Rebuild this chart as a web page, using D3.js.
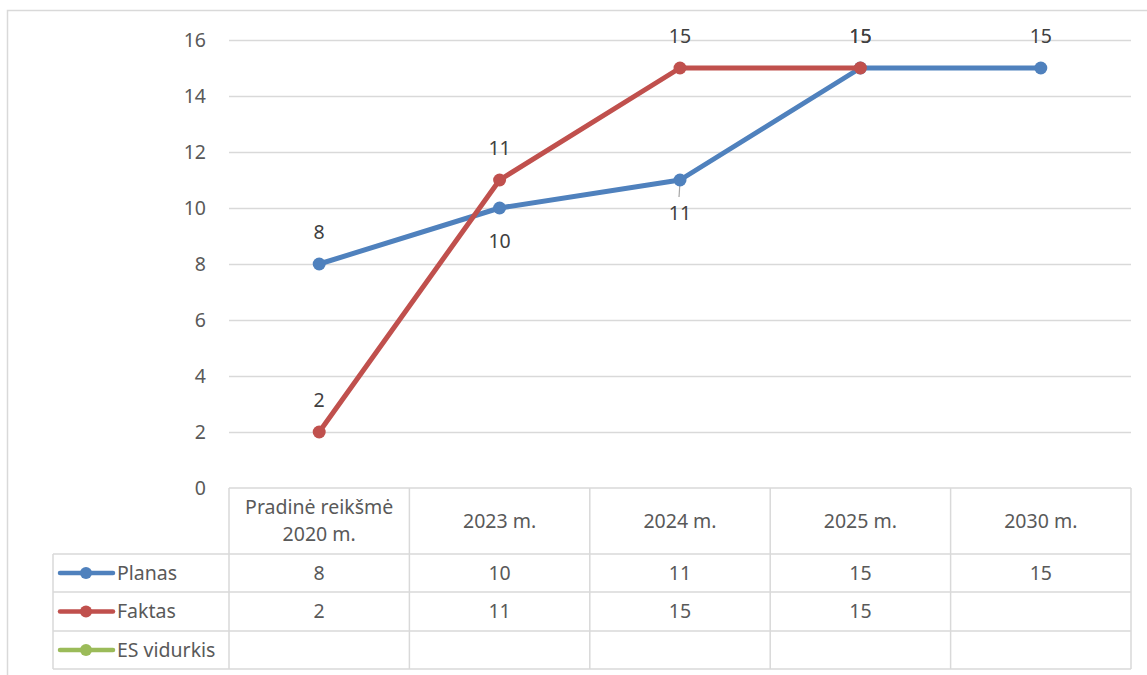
<!DOCTYPE html>
<html>
<head>
<meta charset="utf-8">
<script src="https://cdn.jsdelivr.net/npm/d3@7"></script>
<style>
  body { margin: 0; background: #fff; }
  text { font-family: "Noto Sans", "Open Sans", sans-serif; }
</style>
</head>
<body>
<div id="chart"></div>
<script>
// Categories and series
const categories = ["Pradinė reikšmė\n2020 m.", "2023 m.", "2024 m.", "2025 m.", "2030 m."];
const planas = [8, 10, 11, 15, 15];
const faktas = [2, 11, 15, 15, null];
const esVidurkis = [null, null, null, null, null];
const yTicks = [0, 2, 4, 6, 8, 10, 12, 14, 16];

const series = [
    { name: "Planas", values: planas, color: "#4F81BD", labelPos: ["above", "below", "below", "above", "above"] },
    { name: "Faktas", values: faktas, color: "#C0504D", labelPos: ["above", "above", "above", "above", "above"] },
    { name: "ES vidurkis", values: esVidurkis, color: "#9BBB59", labelPos: [] }
];

const width = 1147, height = 675;
const plot = { left: 229, right: 1131, top: 40, bottom: 488 };
const gridColor = "#d9d9d9";
const textColor = "#595959";
const fs = "19.5px";

const svg = d3.select("#chart").append("svg")
    .attr("width", width)
    .attr("height", height);

// Outer chart border
svg.append("rect")
    .attr("x", 7.5).attr("y", 10.5)
    .attr("width", 1160).attr("height", 700)
    .attr("fill", "none").attr("stroke", gridColor).attr("stroke-width", 1.5);

const x = d3.scaleBand()
    .domain(categories)
    .range([plot.left, plot.right]);

const y = d3.scaleLinear()
    .domain([0, 16])
    .range([plot.bottom, plot.top]);

// Gridlines
svg.append("g")
    .selectAll("line")
    .data(yTicks.filter(d => d > 0))
    .enter().append("line")
    .attr("x1", plot.left).attr("x2", plot.right)
    .attr("y1", d => Math.round(y(d)) + 0.5)
    .attr("y2", d => Math.round(y(d)) + 0.5)
    .attr("stroke", gridColor).attr("stroke-width", 1.5);

// Y axis labels
const yAxis = d3.axisLeft(y).tickValues(yTicks).tickSize(0).tickPadding(0);
const yg = svg.append("g")
    .attr("transform", `translate(206,0)`)
    .call(yAxis);
yg.select(".domain").remove();
yg.selectAll("text")
    .attr("fill", textColor)
    .attr("font-size", fs)
    .attr("dy", "0.35em");

// Data table
const rowTop = [488, 554, 592, 631, 669];
const legendLeft = 53;
const table = svg.append("g").attr("stroke", gridColor).attr("stroke-width", 1.5).attr("fill", "none");

// header row lines
table.append("line").attr("x1", plot.left).attr("x2", plot.right).attr("y1", rowTop[0]).attr("y2", rowTop[0]);
rowTop.slice(1).forEach(r => {
    table.append("line").attr("x1", legendLeft).attr("x2", plot.right).attr("y1", r).attr("y2", r);
});
// vertical lines
categories.forEach(c => {
    table.append("line").attr("x1", x(c)).attr("x2", x(c)).attr("y1", rowTop[0]).attr("y2", rowTop[4]);
});
table.append("line").attr("x1", plot.right).attr("x2", plot.right).attr("y1", rowTop[0]).attr("y2", rowTop[4]);
table.append("line").attr("x1", legendLeft).attr("x2", legendLeft).attr("y1", rowTop[1]).attr("y2", rowTop[4]);

// header text
categories.forEach(c => {
    const lines = c.split("\n");
    const cy = (rowTop[0] + rowTop[1]) / 2;
    const t = svg.append("text")
        .attr("x", x(c) + x.bandwidth() / 2)
        .attr("text-anchor", "middle")
        .attr("fill", textColor)
        .attr("font-size", fs);
    lines.forEach((l, i) => {
        t.append("tspan")
            .attr("x", x(c) + x.bandwidth() / 2)
            .attr("y", cy + (i - (lines.length - 1) / 2) * 27)
            .attr("dy", "0.35em")
            .text(l);
    });
});

// rows
series.forEach((s, i) => {
    const cy = (rowTop[i + 1] + rowTop[i + 2]) / 2;
    const lg = svg.append("g");
    lg.append("line")
        .attr("x1", 60).attr("x2", 113)
        .attr("y1", cy).attr("y2", cy)
        .attr("stroke", s.color).attr("stroke-width", 4.5)
        .attr("stroke-linecap", "round");
    lg.append("circle")
        .attr("cx", 86).attr("cy", cy).attr("r", 6)
        .attr("fill", s.color);
    lg.append("text")
        .attr("x", 117).attr("y", cy).attr("dy", "0.35em")
        .attr("fill", textColor).attr("font-size", fs)
        .text(s.name);

    s.values.forEach((v, j) => {
        if (v == null) return;
        svg.append("text")
            .attr("x", x(categories[j]) + x.bandwidth() / 2)
            .attr("y", cy).attr("dy", "0.35em")
            .attr("text-anchor", "middle")
            .attr("fill", textColor).attr("font-size", fs)
            .text(v);
    });
});

// Lines and markers
const cx = (d, i) => x(categories[i]) + x.bandwidth() / 2;
const line = d3.line()
    .defined(d => d != null)
    .x(cx)
    .y(d => y(d));

// leader line for the 2024 Planas label
svg.append("line")
    .attr("x1", cx(null, 2)).attr("x2", cx(null, 2) - 1)
    .attr("y1", y(11) + 2).attr("y2", y(11) + 17)
    .attr("stroke", "#a6a6a6").attr("stroke-width", 1.2);

series.forEach(s => {
    const g = svg.append("g");
    g.append("path")
        .datum(s.values)
        .attr("d", line)
        .attr("fill", "none")
        .attr("stroke", s.color)
        .attr("stroke-width", 5)
        .attr("stroke-linejoin", "round")
        .attr("stroke-linecap", "round");
    g.selectAll("circle")
        .data(s.values.map((v, i) => ({ v, i })).filter(d => d.v != null))
        .enter().append("circle")
        .attr("cx", d => cx(null, d.i))
        .attr("cy", d => y(d.v))
        .attr("r", 6.5)
        .attr("fill", s.color);
});

// Data labels
series.forEach(s => {
    s.values.forEach((v, i) => {
        if (v == null) return;
        const above = s.labelPos[i] === "above";
        svg.append("text")
            .attr("x", cx(null, i))
            .attr("y", y(v) + (above ? -32 : 33))
            .attr("dy", "0.35em")
            .attr("text-anchor", "middle")
            .attr("fill", "#404040")
            .attr("font-size", fs)
            .text(v);
    });
});
</script>
</body>
</html>
